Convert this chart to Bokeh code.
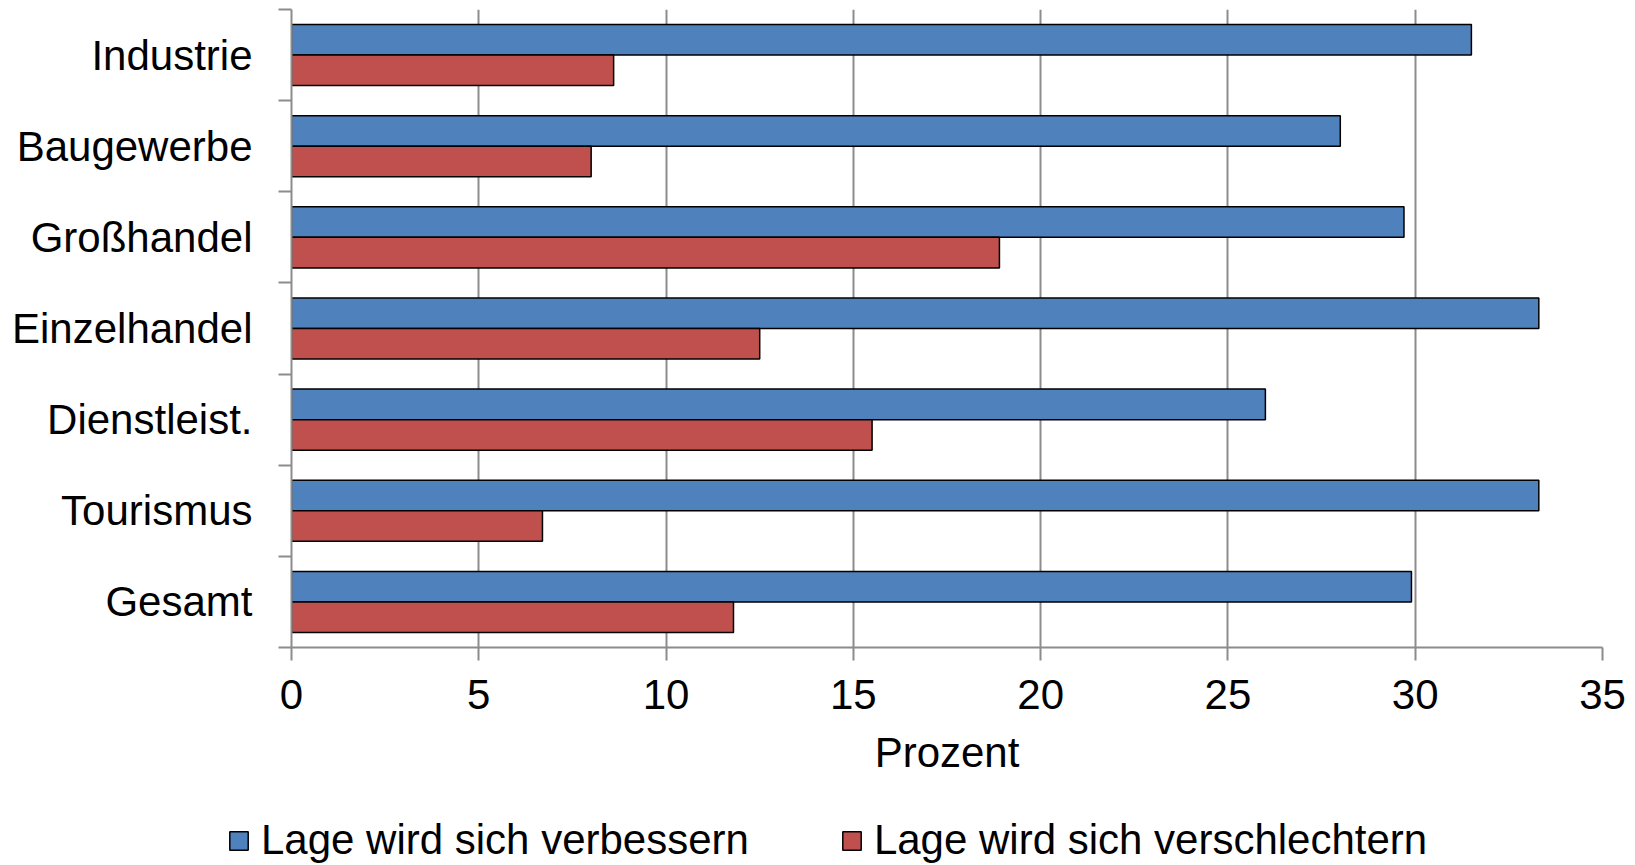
from bokeh.plotting import figure
from bokeh.models import Range1d, FixedTicker, Legend, LegendItem, ColumnDataSource
from bokeh.embed import file_html
from bokeh.resources import INLINE
import numpy as np

categories = ["Industrie", "Baugewerbe", "Großhandel", "Einzelhandel", "Dienstleist.", "Tourismus", "Gesamt"]
besser = [31.5, 28.0, 29.7, 33.3, 26.0, 33.3, 29.9]
schlechter = [8.6, 8.0, 18.9, 12.5, 15.5, 6.7, 11.8]
series_names = ["Lage wird sich verbessern", "Lage wird sich verschlechtern"]
series_colors = ["#4F81BD", "#C0504D"]
x_ticks = [0, 5, 10, 15, 20, 25, 30, 35]

n = len(categories)
centers = np.array([n - i - 0.5 for i in range(n)])
bh = 0.335

FONT = "Liberation Sans"
GRAY = "#8c8c8c"
H1 = 800

p = figure(width=1635, height=H1, output_backend="svg", toolbar_location=None,
           x_range=Range1d(0, 35), y_range=Range1d(0, n))
p.min_border_left = 291
p.min_border_right = 33
p.min_border_top = 9
p.min_border_bottom = H1 - 647
p.outline_line_color = None
p.background_fill_color = "white"
p.border_fill_color = "white"

src_b = ColumnDataSource(dict(y=centers + bh / 2, right=besser))
src_s = ColumnDataSource(dict(y=centers - bh / 2, right=schlechter))
p.hbar(y="y", right="right", left=0, height=bh, source=src_b,
       fill_color=series_colors[0], line_color="black", line_width=1.5)
p.hbar(y="y", right="right", left=0, height=bh, source=src_s,
       fill_color=series_colors[1], line_color="black", line_width=1.5)

# x axis
xa = p.xaxis[0]
xa.ticker = FixedTicker(ticks=x_ticks)
xa.axis_line_color = GRAY
xa.axis_line_width = 2
xa.major_tick_line_color = GRAY
xa.major_tick_line_width = 2
xa.major_tick_out = 13
xa.major_tick_in = 0
xa.minor_tick_line_color = None
xa.major_label_text_font = FONT
xa.major_label_text_font_size = "42px"
xa.major_label_text_color = "black"
xa.major_label_standoff = 19
xa.axis_label = "Prozent"
xa.axis_label_text_font = FONT
xa.axis_label_text_font_size = "42px"
xa.axis_label_text_font_style = "normal"
xa.axis_label_text_color = "black"
xa.axis_label_standoff = 17

# y axis: labels at centers, ticks at category boundaries
ya = p.yaxis[0]
ya.ticker = FixedTicker(ticks=list(centers), minor_ticks=list(range(n + 1)))
ya.major_label_overrides = {float(c): categories[i] for i, c in enumerate(centers)}
ya.axis_line_color = GRAY
ya.axis_line_width = 2
ya.major_tick_line_color = None
ya.major_tick_out = 13
ya.major_tick_in = 0
ya.minor_tick_line_color = GRAY
ya.minor_tick_line_width = 2
ya.minor_tick_out = 13
ya.minor_tick_in = 0
ya.major_label_text_font = FONT
ya.major_label_text_font_size = "42px"
ya.major_label_text_color = "black"
ya.major_label_standoff = 26

p.xgrid.grid_line_color = GRAY
p.xgrid.grid_line_width = 2
p.xgrid.ticker = FixedTicker(ticks=x_ticks)
p.ygrid.grid_line_color = None

# legend strip: its own figure below the chart
H2 = 865 - H1
q = figure(width=1635, height=H2, output_backend="svg", toolbar_location=None,
           x_range=Range1d(0, 1), y_range=Range1d(0, 1),
           x_axis_type=None, y_axis_type=None)
q.min_border = 0
q.outline_line_color = None
q.grid.grid_line_color = None
q.background_fill_color = "white"
q.border_fill_color = "white"
# legend proxies: tiny marks hidden behind the legend's white box
proxy = dict(y=[0.5], left=[0.30], right=[0.305])
lb = q.hbar(y="y", right="right", left="left", height=0.1, source=ColumnDataSource(proxy),
            fill_color=series_colors[0], line_color="black", line_width=1.5)
ls = q.hbar(y="y", right="right", left="left", height=0.1, source=ColumnDataSource(proxy),
            fill_color=series_colors[1], line_color="black", line_width=1.5)

legend = Legend(items=[LegendItem(label=series_names[0], renderers=[lb]),
                       LegendItem(label=series_names[1], renderers=[ls])],
                orientation="horizontal", location=(227, 1))
legend.label_text_font = FONT
legend.label_text_font_size = "42px"
legend.label_text_color = "black"
legend.glyph_width = 23
legend.glyph_height = 23
legend.label_standoff = 11
legend.spacing = 91
legend.padding = 0
legend.margin = 0
legend.border_line_color = None
legend.background_fill_color = "white"
legend.background_fill_alpha = 1.0
q.add_layout(legend, "center")

open("out.html", "w").write(file_html([p, q], INLINE))
